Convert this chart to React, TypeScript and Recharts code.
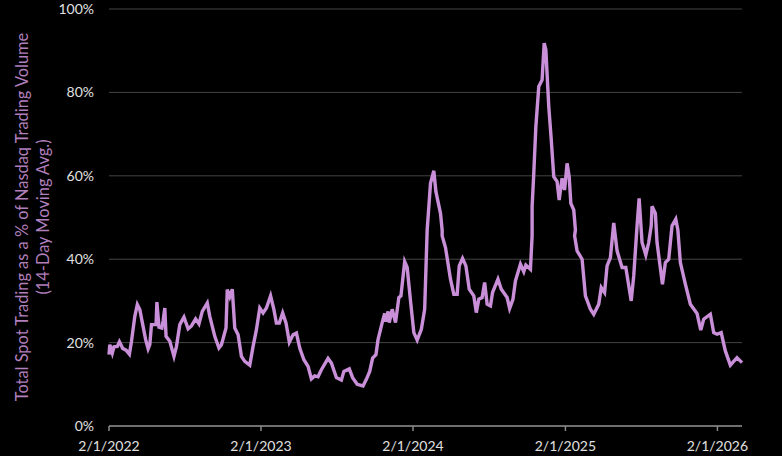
import React from "react";
import { LineChart, Line, XAxis, YAxis, CartesianGrid } from "recharts";

// Days since 2/1/2022
const segA: [number, number][] = [[0,17.1],[2,19.5],[8,17.5],[12,19],[20,19.1],[25,20.2],[33,18.6],[41,18.2],[49,17.2],[54,20.3],[62,26.3],[68,29.1],[74,27.9],[81,24.3],[88,20.7],[94,18.5],[98,19.5],[102,24.3],[113,24.3],[115,29.7],[120,23.7],[127,23.5],[130,25.3],[134,28.3],[137,21.5],[146,20.3],[156,16.7],[162,19.1],[170,24.3],[180,26.1],[190,23.3],[198,24],[208,25.7],[216,24.5],[224,27.5],[236,29.5],[242,26.3],[254,21.5],[264,18.7],[270,19.5],[281,23.5],[284,32.7],[290,31],[296,32.8],[302,23.5],[310,21.9],[318,16.7],[326,15.5],[338,14.6],[346,19.1],[354,23.1],[362,28.3],[370,27.1],[378,28.3],[388,31.2],[396,27.9],[402,24.7],[409,24.7],[417,27.1],[425,24.7],[433,20.1],[442,21.9],[450,22.3],[458,18.7],[468,15.9],[478,14.3],[486,11.3],[494,12],[502,11.8],[510,13.5],[526,16.2],[534,15.1],[546,11.6],[558,11],[564,13.1],[577,13.7],[585,11.6],[596,10],[610,9.6],[618,11.2],[626,13.1],[633,16.3],[641,17.1],[646,20.7]];
const segB: [number, number][] = [[656,24.8],[662,27],[665,25],[670,27.5],[673,24.8],[680,28],[688,24.8],[696,30.8],[701,31.2],[710,39.4],[716,38],[724,30],[732,22.4],[740,20.6],[750,23.2],[758,28],[764,47],[772,58.2],[780,61.2],[785,56.2],[796,51],[800,47],[800,45.6],[808,42.8],[820,35.2],[828,31.6],[836,31.6],[841,38.4],[849,40.2],[857,38.4],[865,32.8],[876,31.2],[882,27.2],[888,30.4],[896,30.8],[902,34.4],[908,29.2],[916,28.8],[921,32],[934,35.2],[942,32.8],[956,30.8],[962,28.2],[970,30.4],[976,34.8],[988,38.8],[996,37],[1001,38.6],[1012,37.6],[1016,45.6],[1016,52.6],[1020,60.6],[1025,71.8],[1032,81.4],[1040,83],[1045,91.8],[1049,90.2],[1056,76.6],[1062,68.6],[1068,59.8],[1076,58.6],[1081,54.2],[1088,59.4],[1094,56.6],[1100,63],[1105,59.8],[1109,53.4],[1116,51.8],[1120,47]];
const segC: [number, number][] = [[1118,45.6],[1124,42],[1136,40],[1144,31.2],[1156,28],[1164,26.8],[1176,29.2],[1182,33.2],[1190,32],[1196,38.4],[1204,40.4],[1212,48.7],[1220,42],[1232,38],[1241,38],[1254,30],[1260,36],[1268,48],[1273,54.6],[1280,44],[1289,41],[1296,44],[1302,48],[1304,52.7],[1312,51],[1316,44],[1329,34],[1336,39.2],[1344,40],[1352,48],[1361,49.6],[1366,47],[1372,39.2],[1384,34],[1396,29.2],[1412,27],[1421,23],[1428,25.6],[1444,26.8],[1452,22.4],[1460,22],[1470,22.4],[1480,18],[1492,14.6],[1508,16.4],[1520,15.2]];

const series = [...segA, ...segB, ...segC].map(([day, value]) => ({ day, value }));
const tickDays = [0, 365, 730, 1096, 1461];
const tickLabels = ["2/1/2022", "2/1/2023", "2/1/2024", "2/1/2025", "2/1/2026"];
const percentTicks = [0, 20, 40, 60, 80, 100];
const yTitle = ["Total Spot Trading as a % of Nasdaq Trading Volume", "(14-Day Moving Avg.)"];

const FONT = "Lato, 'Open Sans', sans-serif";
const PURPLE = "#c98fd8";

const YTitle = () => (
  <g fontFamily={FONT} fontSize={16.4} fill="#b07fbc" textAnchor="middle">
    <text transform="translate(28,217) rotate(-90)">{yTitle[0]}</text>
    <text transform="translate(49,217) rotate(-90)">{yTitle[1]}</text>
  </g>
);

export default function App() {
  return (
    <div style={{ position: "absolute", left: 0, top: 0, width: 782, height: 456, background: "#000", overflow: "hidden" }}>
      <LineChart width={782} height={456} data={series} margin={{ top: 9, right: 40, bottom: 0, left: 0 }}>
        <CartesianGrid horizontal vertical={false} stroke="#444" strokeWidth={1} />
        <XAxis
          dataKey="day"
          type="number"
          domain={[0, 1520]}
          ticks={tickDays}
          interval={0}
          tickFormatter={(d: number) => tickLabels[tickDays.indexOf(d)]}
          tick={{ fill: "#e0e0e0", fontSize: 14, fontFamily: FONT }}
          stroke="#8a8a8a"
          strokeWidth={1.5}
          tickSize={5}
          tickMargin={10}
          height={30}
        />
        <YAxis
          type="number"
          domain={[0, 100]}
          ticks={percentTicks}
          interval={0}
          width={109}
          tickFormatter={(v: number) => `${v}%`}
          tick={{ fill: "#e0e0e0", fontSize: 14, fontFamily: FONT }}
          axisLine={false}
          tickLine={false}
          tickMargin={9}
          label={{ content: () => <YTitle /> }}
        />
        <Line
          type="linear"
          dataKey="value"
          stroke={PURPLE}
          strokeWidth={3.4}
          dot={false}
          isAnimationActive={false}
        />
      </LineChart>
    </div>
  );
}
